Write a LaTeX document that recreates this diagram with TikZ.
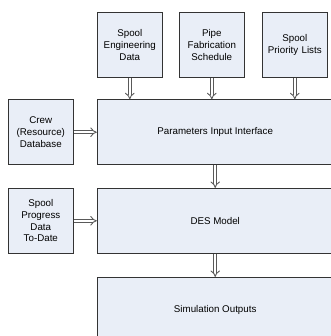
\documentclass[tikz,border=0pt]{standalone}
\usepackage{fontspec}
\setmainfont{Liberation Sans}
\usetikzlibrary{arrows}
\definecolor{boxblue}{RGB}{233,238,247}
\tikzset{
	block/.style={draw=black!80, line width=0.8pt, fill=boxblue, align=center, inner sep=2pt, font=\fontsize{9.8}{11.8}\selectfont},
	small/.style={block, minimum width=65bp, minimum height=65bp, text width=60bp},
	big/.style={block, minimum width=236bp, minimum height=65bp},
	feed/.style={draw=black!65, line width=0.9pt, double=white, double distance=2.4pt, -implies}
}
\begin{document}
\begin{tikzpicture}[x=1bp, y=1bp]
			%%%%% START %%%%%
			
			\useasboundingbox (0, 0) rectangle (331, -336);
			\clip (0, 0) rectangle (331, -336);
			
			\node[small] (eng) at (129.8, -44.8) {Spool\\Engineering\\Data};
			\node[small] (fab) at (211.8, -44.8) {Pipe\\Fabrication\\Schedule};
			\node[small] (prio) at (294.8, -44.8) {Spool\\Priority Lists};
			
			\node[small] (crew) at (40.8, -132.2) {Crew\\(Resource)\\Database};
			\node[big] (param) at (215.2, -132.2) {Parameters Input Interface};
			
			\node[small] (prog) at (40.8, -220.8) {Spool\\Progress\\Data\\To-Date};
			\node[big] (des) at (215.2, -220.8) {DES Model};
			
			\node[big] (sim) at (215.2, -309.8) {Simulation Outputs};
			
			\draw[feed] (eng) -- (eng |- param.north);
			\draw[feed] (fab) -- (fab |- param.north);
			\draw[feed] (prio) -- (prio |- param.north);
			\draw[feed] (crew) -- (param.west |- crew);
			\draw[feed] (prog) -- (des.west |- prog);
			\draw[feed] (param) -- (des);
			\draw[feed] (des) -- (sim);
			
			%%%%% END %%%%%
		\end{tikzpicture}
\end{document}
